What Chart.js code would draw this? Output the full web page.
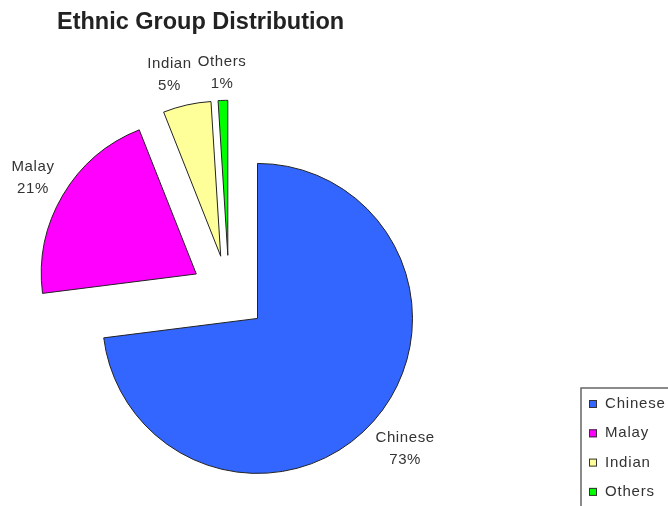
<!DOCTYPE html>
<html>
<head>
<meta charset="utf-8">
<script src="https://cdn.jsdelivr.net/npm/chart.js@4"></script>
<style>
  html, body { margin: 0; padding: 0; background: #fff; }
  #wrap { width: 668px; height: 506px; }
</style>
</head>
<body>
<div id="wrap"><canvas id="ethnicChart"></canvas></div>
<script>
const groups = ['Chinese', 'Malay', 'Indian', 'Others'];
const shares = [73, 21, 5, 1];
const sliceColors = ['#3366ff', '#ff00ff', '#ffff99', '#00ff00'];

const FONT = '"Liberation Sans", Arial, sans-serif';
const explode = 38; // every slice is pulled out of the centre by this much

// draw each arc shifted out along its own middle angle
const explodePlugin = {
    id: 'explode',
    beforeDatasetDraw(chart, args) {
        const ctx = chart.ctx;
        args.meta.data.forEach(arc => {
            const mid = (arc.startAngle + arc.endAngle) / 2;
            ctx.save();
            ctx.translate(Math.cos(mid) * explode, Math.sin(mid) * explode);
            arc.draw(ctx, chart.chartArea);
            ctx.restore();
        });
        return false;
    }
};

// "Name / xx%" outside every slice
const sliceLabels = {
    id: 'sliceLabels',
    afterDatasetsDraw(chart) {
        const ctx = chart.ctx;
        const meta = chart.getDatasetMeta(0);
        const total = shares.reduce((a, b) => a + b, 0);
        const lineH = 22;
        ctx.save();
        ctx.font = '15px ' + FONT;
        ctx.letterSpacing = '0.6px';
        ctx.fillStyle = '#333';
        ctx.textAlign = 'center';
        ctx.textBaseline = 'middle';
        const boxes = meta.data.map((arc, i) => {
            const mid = (arc.startAngle + arc.endAngle) / 2;
            const dx = Math.cos(mid), dy = Math.sin(mid);
            const lines = [groups[i], Math.round(shares[i] / total * 100) + '%'];
            const w = Math.max(...lines.map(t => ctx.measureText(t).width));
            const h = lines.length * lineH;
            const dist = explode + arc.outerRadius + 5 + Math.abs(dx) * w / 2 + Math.abs(dy) * h / 2;
            return {lines, w, h, cx: arc.x + dx * dist, cy: arc.y + dy * dist};
        });
        // small neighbouring slices: push the earlier label sideways
        for (let i = 0; i < boxes.length; i++) {
            for (let j = i + 1; j < boxes.length; j++) {
                const a = boxes[i], b = boxes[j];
                const overlapX = (a.w + b.w) / 2 + 6 - Math.abs(a.cx - b.cx);
                const overlapY = (a.h + b.h) / 2 - Math.abs(a.cy - b.cy);
                if (overlapX > 0 && overlapY > 0) {
                    a.cx += a.cx < b.cx ? -overlapX : overlapX;
                }
            }
        }
        boxes.forEach(b => {
            b.lines.forEach((t, k) => ctx.fillText(t, b.cx, b.cy + (k - (b.lines.length - 1) / 2) * lineH));
        });
        ctx.restore();
    }
};

// framed legend in the bottom right corner
const boxLegend = {
    id: 'boxLegend',
    afterDraw(chart) {
        const ctx = chart.ctx;
        const x0 = 581, y0 = 388, rowH = 29.3;
        ctx.save();
        ctx.strokeStyle = '#666';
        ctx.lineWidth = 1.5;
        ctx.strokeRect(x0, y0, 200, 200);
        ctx.font = '15px ' + FONT;
        ctx.letterSpacing = '0.8px';
        ctx.textAlign = 'left';
        ctx.textBaseline = 'middle';
        groups.forEach((g, i) => {
            const y = y0 + 16 + i * rowH;
            ctx.fillStyle = sliceColors[i];
            ctx.fillRect(x0 + 8, y - 4, 8, 8);
            ctx.strokeStyle = '#333';
            ctx.lineWidth = 1;
            ctx.strokeRect(x0 + 8.5, y - 3.5, 7, 7);
            ctx.fillStyle = '#333';
            ctx.fillText(g, x0 + 24, y);
        });
        ctx.restore();
    }
};

new Chart(document.getElementById('ethnicChart'), {
    type: 'pie',
    data: {
        labels: groups,
        datasets: [{
            data: shares,
            backgroundColor: sliceColors,
            borderColor: '#222',
            borderWidth: 1,
            radius: 155
        }]
    },
    options: {
        responsive: true,
        maintainAspectRatio: false,
        animation: false,
        events: [],
        layout: {padding: {left: 57, right: 267, top: 0, bottom: 0}},
        plugins: {
            legend: {display: false},
            tooltip: {enabled: false},
            title: {
                display: true,
                text: 'Ethnic Group Distribution',
                align: 'start',
                color: '#222',
                font: {family: FONT, size: 23.5, weight: 'bold'},
                padding: {top: 8, bottom: 44.4}
            }
        }
    },
    plugins: [explodePlugin, sliceLabels, boxLegend]
});
</script>
</body>
</html>
